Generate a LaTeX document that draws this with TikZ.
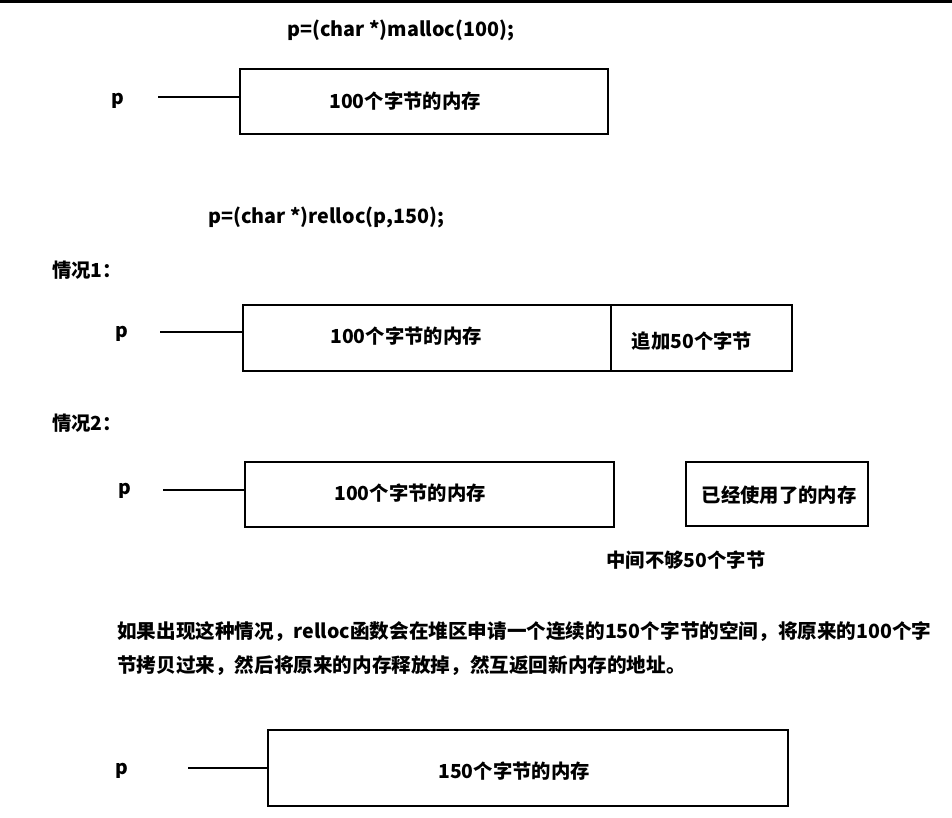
\documentclass[tikz,border=0pt]{standalone}
\usepackage{fontspec}
\setmainfont{Noto Sans CJK SC}
\begin{document}
\begin{tikzpicture}[x=0.75pt,y=-0.75pt,
  txt/.style={font=\fontsize{14.5}{17}\selectfont\bfseries, inner sep=0pt},
  codetxt/.style={font=\fontsize{14.8}{18}\selectfont\bfseries, inner sep=0pt},
  paratxt/.style={font=\fontsize{14.7}{18}\selectfont\bfseries, inner sep=0pt},
  membox/.style={draw=black, line width=2.2pt, minimum width=#1, inner sep=0pt},
  link/.style={line width=2pt}]
\useasboundingbox (0,0) rectangle (952,817);
\fill[black] (0,0) rectangle (952,3);
% malloc
\node[codetxt, anchor=west] (code1) at (287,30) {p=(char *)malloc(100);};
\node[membox=276pt, minimum height=48.75pt] (b1) at (424,101.5) {};
\node[txt] (t1) at (405,101) {100个字节的内存};
\node[txt] (p1) at (118,101) {p};
\coordinate (s1) at (158,97);
\draw[link] (s1) -- (s1 -| b1.west);
% realloc
\node[codetxt, anchor=west] (code2) at (208,217) {p=(char *)relloc(p,150);};
\node[txt, anchor=west] (case1) at (52,270) {情况1：};
\node[membox=276pt, minimum height=49.5pt] (b2) at (427,338) {};
\node[txt] (t2) at (406,336) {100个字节的内存};
\node[membox=135.75pt, minimum height=49.5pt] (b3) at (701.5,338) {};
\node[txt] (t3) at (692,341) {追加50个字节};
\node[txt] (p2) at (122,334) {p};
\coordinate (s2) at (160,332);
\draw[link] (s2) -- (s2 -| b2.west);
% case 2
\node[txt, anchor=west] (case2) at (52,423) {情况2：};
\node[membox=276.75pt, minimum height=48.75pt] (b4) at (429.5,494.5) {};
\node[txt] (t4) at (410,493) {100个字节的内存};
\node[membox=136.5pt, minimum height=48pt] (b5) at (777,494) {};
\node[txt] (t5) at (779,495) {已经使用了的内存};
\node[txt] (p3) at (125,491) {p};
\coordinate (s3) at (163,490);
\draw[link] (s3) -- (s3 -| b4.west);
\node[txt] (gap) at (686,560) {中间不够50个字节};
% paragraph
\node[paratxt, anchor=west] (para1) at (117,632) {如果出现这种情况，relloc函数会在堆区申请一个连续的150个字节的空间，将原来的100个字};
\node[paratxt, anchor=west] (para2) at (117,666) {节拷贝过来，然后将原来的内存释放掉，然互返回新内存的地址。};
% final
\node[membox=390pt, minimum height=57pt] (b6) at (528,768) {};
\node[txt] (t6) at (514,771) {150个字节的内存};
\node[txt] (p4) at (122,771) {p};
\coordinate (s4) at (188,768);
\draw[link] (s4) -- (s4 -| b6.west);
\end{tikzpicture}
\end{document}
